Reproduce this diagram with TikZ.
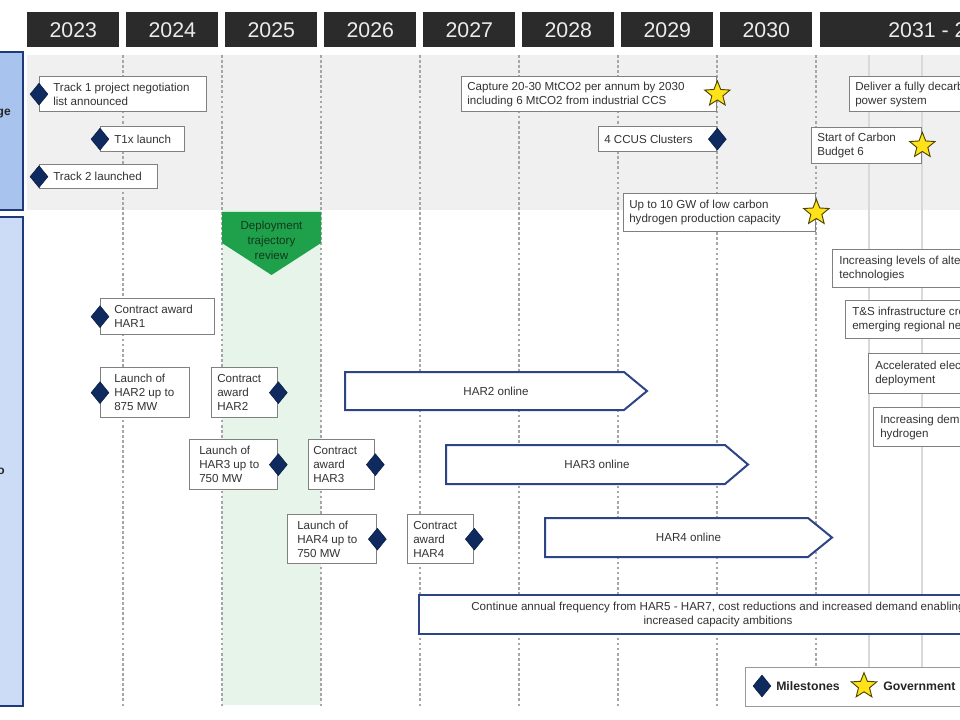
\documentclass[tikz,border=0pt]{standalone}
\usepackage{fontspec}
\setmainfont{Liberation Sans}
\usetikzlibrary{shapes.geometric}
\definecolor{hdr}{HTML}{2B2B2B}
\definecolor{band}{HTML}{F0F0F0}
\definecolor{navy}{HTML}{0F2A5E}
\definecolor{staryel}{HTML}{FFE21A}
\definecolor{starbrd}{HTML}{4D4600}
\definecolor{boxgray}{HTML}{808080}
\definecolor{harblue}{HTML}{2E4585}
\definecolor{paneltop}{HTML}{A9C3EF}
\definecolor{panellow}{HTML}{CDDCF6}
\definecolor{panelbrd}{HTML}{1F3A7A}
\definecolor{mint}{HTML}{E6F4EA}
\definecolor{greenbox}{HTML}{1FA04A}
\definecolor{greentxt}{HTML}{10391D}
\definecolor{dashgray}{HTML}{A6A6A6}
\definecolor{linegray}{HTML}{D9D9D9}
\definecolor{txt}{HTML}{333333}
\tikzset{
 yearbox/.style={fill=hdr, draw=none, anchor=north west, minimum height=26.25pt, text=white!92!black, font=\fontsize{16}{18}\selectfont, inner sep=0pt},
 evbox/.style={draw=boxgray, fill=white, line width=1pt, anchor=north west, inner sep=0pt},
 evtext/.style={align=left, inner sep=0pt, text=txt, font=\fontsize{8.7}{10.5}\selectfont},
 mdiam/.style={diamond, fill=navy, draw=navy!70!black, line width=0.4pt, minimum width=13.5pt, minimum height=16.5pt, inner sep=0pt},
 gstar/.style={star, star points=5, star point ratio=2.3, fill=staryel, draw=starbrd, line width=0.7pt, minimum size=20pt, inner sep=0pt},
 harline/.style={draw=harblue, fill=white, line width=1.5pt, line join=miter},
 hartext/.style={text=txt, font=\fontsize{8.7}{10.5}\selectfont, inner sep=0pt, align=center},
 yearsep/.style={draw=dashgray, line width=0.8pt, dash pattern=on 2pt off 1.8pt},
 gridline/.style={draw=linegray, line width=0.8pt},
 panel/.style={draw=panelbrd, line width=2pt},
 legtext/.style={anchor=west, inner sep=0pt, text=black!85, font=\bfseries\fontsize{9.2}{11}\selectfont},
}
\newcommand\evbox[7]{%
 \pgfmathsetmacro\evw{#4*0.75}\pgfmathsetmacro\evh{#5*0.75}\pgfmathsetmacro\evpad{#6*0.75}%
 \node[evbox, minimum width=\evw pt, minimum height=\evh pt] (#1) at (#2,#3) {};
 \node[evtext, anchor=west] (#1t) at ([xshift=\evpad pt]#1.west) {#7};}
\newcommand\harrow[7]{%
 \draw[harline] (#2,#3) -- (#6,#3) -- (#4,{(#3+#5)/2}) -- (#6,#5) -- (#2,#5) -- cycle;
 \node[hartext] (#1) at ({(#2+#4)/2},{(#3+#5)/2}) {#7};}
\begin{document}
\begin{tikzpicture}[x=0.75pt,y=-0.75pt]
\useasboundingbox (0,0) rectangle (960,720);
\clip (0,0) rectangle (960,720);
\fill[white] (0,0) rectangle (960,720);
% backgrounds
\fill[band] (27,55) rectangle (960,210);
\fill[mint] (222,210) rectangle (321,705);
\foreach \x in {123,222,321,420,519,618,717,816} \draw[yearsep] (\x,55) -- (\x,706);
\draw[gridline] (869,55) -- (869,667);
\draw[gridline] (922,55) -- (922,667);
% left panels
\draw[panel, fill=paneltop] (-5,52) rectangle (23,210);
\draw[panel, fill=panellow] (-5,217) rectangle (23,706);
\node[anchor=east, inner sep=0pt, text=black!85, font=\bfseries\fontsize{9}{11}\selectfont] (lab1) at (11,114) {ge};
\node[anchor=east, inner sep=0pt, text=black!85, font=\bfseries\fontsize{9}{11}\selectfont] (lab2) at (5,471) {o};
% header
\node[yearbox, minimum width=69pt] (y2023) at (27,12) {2023};
\node[yearbox, minimum width=69pt] (y2024) at (126,12) {2024};
\node[yearbox, minimum width=69pt] (y2025) at (225,12) {2025};
\node[yearbox, minimum width=69pt] (y2026) at (324,12) {2026};
\node[yearbox, minimum width=69pt] (y2027) at (423,12) {2027};
\node[yearbox, minimum width=69pt] (y2028) at (522,12) {2028};
\node[yearbox, minimum width=69pt] (y2029) at (621,12) {2029};
\node[yearbox, minimum width=69pt] (y2030) at (720,12) {2030};
\node[yearbox, minimum width=187.5pt] (y2031) at (820,12) {2031 - 2050};
% deployment trajectory review
\fill[greenbox] (222,212) -- (321,212) -- (321,243) -- (271.5,275) -- (222,243) -- cycle;
\node[align=center, inner sep=0pt, text=greentxt, font=\fontsize{8.7}{11.2}\selectfont] (dtr) at (271.5,240) {Deployment\\trajectory\\review};
% top band events
\evbox{b1}{39}{76}{167}{35}{14}{Track 1 project negotiation\\list announced}
\evbox{b2}{100}{126}{84}{25}{14}{T1x launch}
\evbox{b3}{39}{164}{118}{24}{14}{Track 2 launched}
\evbox{b4}{461}{76}{255}{35}{6}{Capture 20-30 MtCO2 per annum by 2030\\including 6 MtCO2 from industrial CCS}
\evbox{b5}{598}{126}{118}{25}{6}{4 CCUS Clusters}
\evbox{b6}{849}{76}{220}{35}{6}{Deliver a fully decarbonised\\power system}
\evbox{b7}{811}{127}{110}{36}{6}{Start of Carbon\\Budget 6}
\evbox{b8}{623}{193}{192}{38}{6}{Up to 10 GW of low carbon\\hydrogen production capacity}
\node[mdiam] (d1) at (b1.west) {};
\node[mdiam] (d2) at (b2.west) {};
\node[mdiam] (d3) at (b3.west) {};
\node[gstar] (s4) at (b4.east) {};
\node[mdiam] (d5) at (b5.east) {};
\node[gstar] (s7) at (b7.east) {};
\node[gstar] (s8) at (b8.east) {};
% right column
\evbox{b9}{832}{249}{220}{38}{7}{Increasing levels of alternative\\technologies}
\evbox{b10}{845}{300}{220}{38}{7}{T\&S infrastructure creating\\emerging regional networks}
\evbox{b11}{868}{353}{200}{40}{7}{Accelerated electrolytic\\deployment}
\evbox{b12}{873}{407}{200}{39}{7}{Increasing demand for\\hydrogen}
% HAR rounds
\evbox{b13}{100}{298}{114}{36}{14}{Contract award\\HAR1}
\evbox{b14}{100}{367}{89}{50}{14}{Launch of\\HAR2 up to\\875 MW}
\evbox{b15}{211}{367}{66}{50}{6}{Contract\\award\\HAR2}
\evbox{b16}{189}{439}{88}{50}{10}{Launch of\\HAR3 up to\\750 MW}
\evbox{b17}{308}{439}{66}{50}{5}{Contract\\award\\HAR3}
\evbox{b18}{287}{514}{89}{49}{10}{Launch of\\HAR4 up to\\750 MW}
\evbox{b19}{407}{514}{66}{49}{6}{Contract\\award\\HAR4}
\node[mdiam] (d13) at (b13.west) {};
\node[mdiam] (d14) at (b14.west) {};
\node[mdiam] (d15) at (b15.east) {};
\node[mdiam] (d16) at (b16.east) {};
\node[mdiam] (d17) at (b17.east) {};
\node[mdiam] (d18) at (b18.east) {};
\node[mdiam] (d19) at (b19.east) {};
\harrow{h2}{345}{372}{647}{410}{624}{HAR2 online}
\harrow{h3}{446}{445}{748}{484}{725}{HAR3 online}
\harrow{h4}{545}{518}{832}{557}{808}{HAR4 online}
\node[draw=harblue, fill=white, line width=1.5pt, anchor=north west, minimum width=448.5pt, minimum height=29.25pt, inner sep=0pt, align=center, text=txt, font=\fontsize{8.7}{10.5}\selectfont] (cont) at (418,594) {Continue annual frequency from HAR5 - HAR7, cost reductions and increased demand enabling\\increased capacity ambitions};
% legend
\node[draw=boxgray!80, fill=white, line width=0.9pt, anchor=north west, minimum width=225pt, minimum height=29pt, inner sep=0pt] (leg) at (745,667) {};
\node[mdiam] (ldiam) at (762,686) {};
\node[legtext] (lmil) at (776,686) {Milestones};
\node[gstar] (lstar) at (864,686) {};
\node[legtext] (lgov) at (883,686) {Government};
\end{tikzpicture}
\end{document}
